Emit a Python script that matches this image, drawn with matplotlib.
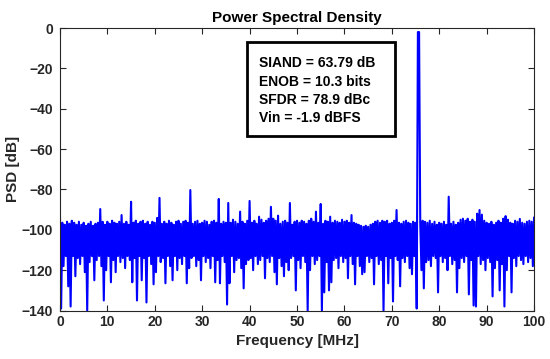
import matplotlib
matplotlib.use('Agg')
import matplotlib.pyplot as plt
import numpy as np
from matplotlib.patches import Rectangle

plt.rcParams['font.family'] = ['Liberation Sans', 'DejaVu Sans']
plt.rcParams['font.weight'] = 'bold'

# upper points of the noise floor, every 0.5 MHz from 0 to 100
psd_hi = [
    -93.0, -96.5, -97.5, -96.0, -97.0, -95.5, -96.5, -97.5, -96.0, -97.5, -96.5, -98.0, -97.0, -96.0, -98.0, -97.0, -96.5, -97.0, -96.0, -97.5,
    -96.0, -97.0, -95.5, -96.5, -97.0, -96.0, -96.5, -97.0, -96.0, -97.5, -96.0, -96.5, -95.5, -97.0, -96.0, -95.5, -97.0, -96.0, -97.5, -96.0,
    -96.5, -96.0, -96.5, -97.0, -96.0, -97.0, -95.5, -96.5, -97.5, -96.0, -95.5, -97.0, -96.0, -95.5, -96.5, -96.0, -97.0, -96.0, -95.5, -97.0,
    -96.5, -95.5, -96.0, -97.5, -96.0, -95.5, -96.5, -96.0, -97.0, -96.0, -96.5, -95.5, -96.5, -95.0, -96.0, -97.0, -95.5, -96.0, -97.0, -95.5,
    -96.0, -96.5, -95.5, -97.0, -96.0, -95.0, -96.5, -95.5, -94.5, -96.0, -94.5, -95.5, -96.5, -97.0, -96.0, -95.5, -96.5, -96.0, -97.5, -96.0,
    -95.5, -96.5, -95.5, -96.0, -97.0, -95.5, -94.5, -96.0, -95.5, -96.5, -96.0, -97.0, -95.5, -96.0, -95.5, -96.5, -95.5, -96.0, -96.5, -95.0,
    -96.0, -95.5, -96.5, -96.0, -96.5, -97.0, -97.5, -98.0, -98.5, -98.0, -98.5, -97.5, -97.0, -96.0, -95.5, -96.5, -95.5, -96.0, -95.5, -97.0,
    -96.5, -95.5, -96.0, -96.5, -97.0, -96.0, -95.5, -96.5, -97.0, -96.0, -96.5, -96.0, -97.0, -95.5, -96.0, -96.5, -95.5, -97.0, -96.0, -97.5,
    -96.5, -97.0, -96.0, -97.5, -96.0, -97.0, -96.0, -97.5, -96.5, -95.0, -94.5, -95.5, -94.5, -96.0, -95.0, -96.0, -92.0, -92.0, -92.5, -95.5,
    -96.5, -97.0, -96.0, -97.5, -96.5, -95.5, -96.5, -94.5, -95.0, -95.0, -96.5, -97.0, -95.5, -96.0, -96.0, -96.5, -97.0, -96.0, -95.5, -96.0,
    -94.0,
]

# lower points of the noise floor, every 0.5 MHz from 0.25 to 99.75
psd_lo = [
    -114, -118, -113, -120, -115, -113, -119, -114, -117, -113, -121, -114, -116, -113, -119, -115, -113, -118, -114, -120,
    -113, -117, -115, -121, -113, -116, -114, -119, -113, -115, -118, -114, -120, -113, -116, -114, -119, -113, -117, -115,
    -121, -113, -116, -114, -119, -113, -118, -115, -113, -120, -114, -117, -113, -116, -119, -114, -113, -118, -115, -121,
    -113, -116, -114, -119, -113, -117, -115, -120, -113, -116, -114, -118, -113, -121, -115, -114, -119, -113, -117, -115,
    -114, -120, -113, -117, -115, -113, -119, -114, -116, -113, -121, -115, -114, -118, -113, -116, -120, -114, -113, -117,
    -115, -119, -113, -116, -114, -121, -113, -117, -115, -113, -120, -114, -116, -113, -118, -115, -114, -119, -113, -116,
    -114, -120, -113, -117, -115, -113, -118, -114, -121, -113, -116, -114, -119, -113, -117, -115, -120, -113, -116, -114,
    -118, -113, -115, -121, -114, -116, -113, -119, -115, -113, -117, -114, -120, -113, -116, -115, -118, -113, -114, -119,
    -113, -116, -114, -120, -113, -117, -115, -113, -119, -114, -116, -113, -121, -115, -114, -118, -113, -117, -115, -120,
    -114, -116, -113, -119, -115, -113, -117, -114, -120, -113, -116, -114, -118, -113, -115, -117, -113, -116, -114, -118,
]

# spurs above the floor
spur_freq = [0.0, 8.5, 13.0, 15.0, 20.5, 21.0, 27.5, 33.5, 35.5, 38.0, 40.0, 42.0, 44.5, 46.0,
             48.5, 54.0, 55.0, 57.0, 61.5, 71.0, 82.0, 88.5, 94.0, 97.0]
spur_db = [-92.6, -89.7, -92.7, -86.1, -94.1, -84.2, -80.3, -84.7, -86.7, -91.0, -85.7, -93.5, -88.6, -93.0,
           -86.7, -91.0, -87.2, -93.5, -92.7, -90.2, -83.6, -90.2, -93.2, -94.6]

# deep dips below the floor
dip_freq = [0.25, 1.75, 2.25, 3.25, 5.75, 7.25, 9.25, 10.75, 15.25, 16.25, 17.25, 18.25, 19.75, 22.25,
            23.75, 26.75, 29.75, 32.75, 33.75, 35.25, 35.75, 38.75, 43.25, 45.75, 47.25, 49.75, 52.25,
            52.75, 55.25, 55.75, 56.75, 57.25, 60.75, 62.25, 63.75, 66.25, 68.25, 69.25, 70.25, 71.75,
            74.25, 75.25, 76.75, 79.75, 83.75, 86.25, 87.25, 87.75, 91.25, 92.75, 93.75, 95.25]
dip_db = [-139, -128, -138, -123, -140, -125, -135, -126, -126, -135, -125, -136, -127, -126.5,
          -125, -126.5, -125, -126, -126.5, -137, -126.5, -129, -124, -127, -123, -130, -140,
          -120, -140, -131, -130, -126, -124, -127, -122, -127, -140, -126.5, -135.5, -128,
          -122, -139, -129, -131, -131, -132, -137.5, -138, -133, -130, -138, -131]

# fundamental tone
tone_freq = [75.5, 75.75]
tone_db = [-2.0, -2.0]

freq = np.linspace(0, 100, len(psd_hi) + len(psd_lo))
psd = np.empty(len(freq))
psd[0::2] = psd_hi
psd[1::2] = psd_lo
for f, v in zip(spur_freq + dip_freq + tone_freq, spur_db + dip_db + tone_db):
    psd[np.argmin(np.abs(freq - f))] = v

fig = plt.figure(figsize=(5.5, 3.59), dpi=100)
ax = fig.add_axes([0.109, 0.135, 0.862, 0.787])
ax.plot(freq, psd, color='#0000ff', linewidth=1.5)

ax.set_xlim(0, 100)
ax.set_ylim(-140, 0)
ax.set_xticks(np.arange(0, 101, 10))
ax.set_yticks(np.arange(-140, 1, 20))
ax.tick_params(direction='in', top=True, right=True, length=4, labelsize=10, colors='#262626')
ax.tick_params(axis='y', pad=5)
for s in ax.spines.values():
    s.set_color('#262626')
    s.set_linewidth(0.8)

ax.set_title('Power Spectral Density', fontsize=11, fontweight='bold', pad=4)
ax.set_xlabel('Frequency [MHz]', fontsize=11, fontweight='bold', color='#262626', labelpad=3)
ax.set_ylabel('PSD [dB]', fontsize=11, fontweight='bold', color='#262626', labelpad=1)

ax.add_patch(Rectangle((0.395, 0.618), 0.312, 0.332, transform=ax.transAxes,
                       facecolor='white', edgecolor='black', linewidth=2, zorder=3))
lines = ['SIAND = 63.79 dB', 'ENOB = 10.3 bits', 'SFDR = 78.9 dBc', 'Vin = -1.9 dBFS']
ys = [0.875, 0.810, 0.745, 0.680]
for t, y in zip(lines, ys):
    ax.text(0.420, y, t, transform=ax.transAxes, fontsize=10, fontweight='bold',
            va='center', ha='left', zorder=4)

fig.savefig('out.png', dpi=100)
